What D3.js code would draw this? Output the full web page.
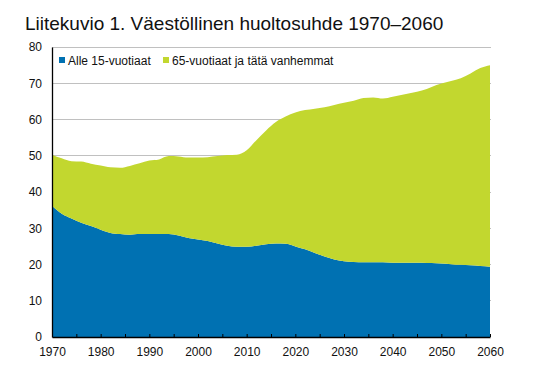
<!DOCTYPE html>
<html>
<head>
<meta charset="utf-8">
<script src="https://cdn.jsdelivr.net/npm/d3@7"></script>
<style>
  body { margin: 0; background: #fff; }
  text { font-family: Arial, "Liberation Sans", sans-serif; }
</style>
</head>
<body>
<svg id="chart"></svg>
<script>
// data (every 2nd year)
const years = [1970,1972,1974,1976,1978,1980,1982,1984,1986,1988,1990,1992,1994,1996,1998,
  2000,2002,2004,2006,2008,2010,2012,2014,2016,2018,2020,2022,2024,2026,2028,
  2030,2032,2034,2036,2038,2040,2042,2044,2046,2048,2050,2052,2054,2056,2058,2060];

// Alle 15-vuotiaat
const under15 = [36.2,34.0,32.7,31.5,30.6,29.6,28.7,28.4,28.2,28.4,28.4,28.4,28.4,28.0,27.3,
  26.9,26.5,25.8,25.2,24.9,24.9,25.2,25.6,25.8,25.7,25.0,24.2,23.2,22.2,21.4,
  20.9,20.7,20.6,20.6,20.6,20.5,20.5,20.5,20.5,20.4,20.3,20.1,19.9,19.8,19.6,19.4];

// 65-vuotiaat ja tätä vanhemmat
const over65 = [14.1,15.3,15.8,16.9,17.2,17.7,18.1,18.3,19.0,19.5,20.3,20.6,21.5,21.8,22.2,
  22.6,23.1,24.1,25.0,25.4,26.6,29.1,31.4,33.5,35.1,36.9,38.4,39.8,41.2,42.6,
  43.7,44.5,45.3,45.5,45.2,45.8,46.3,46.9,47.5,48.6,49.6,50.5,51.5,52.9,54.6,55.6];

const seriesNames = ["Alle 15-vuotiaat", "65-vuotiaat ja tätä vanhemmat"];
const colors = ["#0071b2", "#c2d72f"];
const yTicks = [0, 10, 20, 30, 40, 50, 60, 70, 80];
const xLabelTicks = [1970,1980,1990,2000,2010,2020,2030,2040,2050,2060];

const W = 557, H = 378;
const margin = {top: 47, right: 67, bottom: 41, left: 52},
    width = W - margin.left - margin.right,
    height = H - margin.top - margin.bottom;

const root = d3.select('#chart').attr("width", W).attr("height", H);

root.append("text")
    .attr("x", 25).attr("y", 30)
    .attr("font-size", 19)
    .attr("fill", "#111")
    .text("Liitekuvio 1. Väestöllinen huoltosuhde 1970–2060");

const svg = root.append("g")
    .attr("transform", "translate(" + margin.left + "," + margin.top + ")");

const x = d3.scaleLinear().domain([1970, 2060]).range([0, width]);
const y = d3.scaleLinear().domain([0, 80]).range([height, 0]);

// gridlines
svg.selectAll(".grid")
    .data(yTicks.slice(1))
    .enter().append("line")
    .attr("x1", 0).attr("x2", width + 1)
    .attr("y1", d => y(d)).attr("y2", d => y(d))
    .attr("stroke", "#c0c0c0").attr("stroke-width", 1)
    .attr("shape-rendering", "crispEdges");

// stacked areas
const table = years.map((yr, i) => ({year: yr, a: under15[i], b: over65[i]}));
const stacked = d3.stack().keys(["a", "b"])(table);

svg.selectAll(".layer")
    .data(stacked)
    .enter().append("path")
    .attr("fill", (d, i) => colors[i])
    .attr("d", d3.area()
        .curve(d3.curveMonotoneX)
        .x(d => x(d.data.year))
        .y0(d => y(d[0]))
        .y1(d => y(d[1])));

// x axis: minor ticks every 5 years pointing up, labels every 10
svg.append("g")
    .attr("transform", "translate(0," + height + ")")
    .call(d3.axisBottom(x).tickValues(d3.range(1970, 2061, 5)).tickSize(-3).tickFormat(""))
    .call(g => g.select(".domain").remove())
    .selectAll("line").attr("stroke", "#000");

svg.append("g")
    .attr("transform", "translate(0," + height + ")")
    .call(d3.axisBottom(x).tickValues(xLabelTicks).tickSize(0).tickPadding(10).tickFormat(d3.format("d")))
    .call(g => g.select(".domain").attr("stroke", "#000").attr("stroke-width", 1.3))
    .selectAll("text")
    .attr("font-size", 12).attr("font-family", "Arial, 'Liberation Sans', sans-serif").attr("fill", "#111");

// y axis
svg.append("g")
    .call(d3.axisLeft(y).tickValues(yTicks).tickSize(0).tickPadding(10))
    .call(g => g.select(".domain").attr("stroke", "#000").attr("stroke-width", 1.3))
    .selectAll("text")
    .attr("font-size", 12).attr("font-family", "Arial, 'Liberation Sans', sans-serif").attr("fill", "#111");

// legend
const legendX = [59, 163];
const legend = root.selectAll(".legend")
    .data(seriesNames)
    .enter().append("g")
    .attr("transform", (d, i) => "translate(" + legendX[i] + ",57)");

legend.append("rect")
    .attr("width", 6).attr("height", 6)
    .attr("fill", (d, i) => colors[i]);

legend.append("text")
    .attr("x", 9).attr("y", 7.5)
    .attr("font-size", 12).attr("fill", "#111")
    .text(d => d);
</script>
</body>
</html>
